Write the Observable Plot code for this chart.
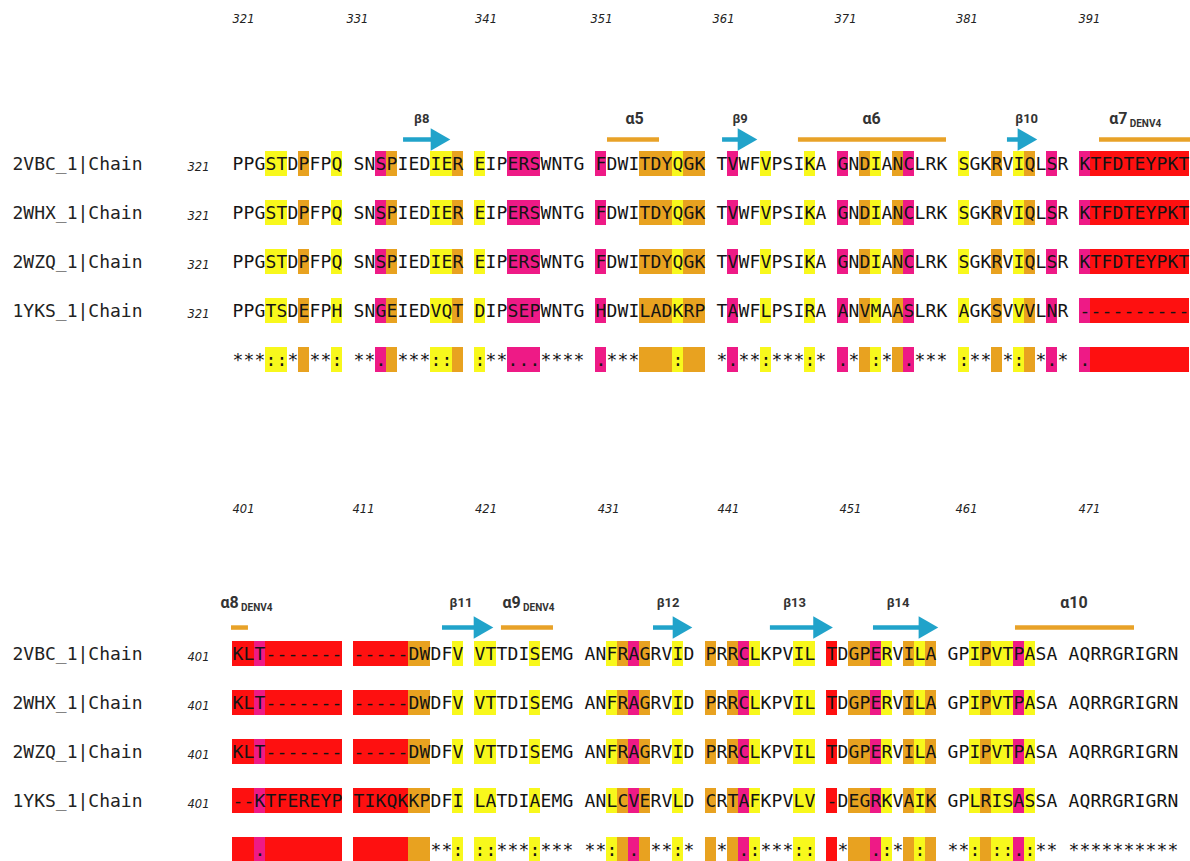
<!DOCTYPE html>
<html><head><meta charset="utf-8">
<script src="https://cdn.jsdelivr.net/npm/d3@7"></script>
<script src="https://cdn.jsdelivr.net/npm/@observablehq/plot@0.6"></script>
<style>body{margin:0;background:#fff}</style>
</head><body><div id="chart"></div>
<script>
// ---------- data ----------
const names = ["2VBC_1|Chain", "2WHX_1|Chain", "2WZQ_1|Chain", "1YKS_1|Chain"];
const panelStarts = [321, 401];

const top2VBC = ["PPGSTDPFPQ","SNSPIEDIER","EIPERSWNTG","FDWITDYQGK","TVWFVPSIKA","GNDIANCLRK","SGKRVIQLSR","KTFDTEYPKT"];
const top2WHX = ["PPGSTDPFPQ","SNSPIEDIER","EIPERSWNTG","FDWITDYQGK","TVWFVPSIKA","GNDIANCLRK","SGKRVIQLSR","KTFDTEYPKT"];
const top2WZQ = ["PPGSTDPFPQ","SNSPIEDIER","EIPERSWNTG","FDWITDYQGK","TVWFVPSIKA","GNDIANCLRK","SGKRVIQLSR","KTFDTEYPKT"];
const top1YKS = ["PPGTSDEFPH","SNGEIEDVQT","DIPSEPWNTG","HDWILADKRP","TAWFLPSIRA","ANVMAASLRK","AGKSVVVLNR","----------"];
const topCons = ["***::* **:","**. ***:: ",":**...****",".***   :  ","*.**:***:*",".* :* .***",":** *: *.*",".         "];
const topClass = ["   yy o  y","  po   yyo","y  ppp    ","p   oooyoo"," p  y   y ","p oy op   ","y  o yo p ","prrrrrrrrr"];

const bot2VBC = ["KLT-------","-----DWDFV","VTTDISEMG","ANFRAGRVID","PRRCLKPVIL","TDGPERVILA","GPIPVTPASA","AQRRGRIGRN"];
const bot2WHX = ["KLT-------","-----DWDFV","VTTDISEMG","ANFRAGRVID","PRRCLKPVIL","TDGPERVILA","GPIPVTPASA","AQRRGRIGRN"];
const bot2WZQ = ["KLT-------","-----DWDFV","VTTDISEMG","ANFRAGRVID","PRRCLKPVIL","TDGPERVILA","GPIPVTPASA","AQRRGRIGRN"];
const bot1YKS = ["--KTFEREYP","TIKQKKPDFI","LATDIAEMG","ANLCVERVLD","CRTAFKPVLV","-DEGRKVAIK","GPLRISASSA","AQRRGRIGRN"];
const botCons = ["  .       ","       **:","::***:***","**: . **:*"," * .:***::"," *  .:* : ","**: ::.:**","**********"];
const botClass = ["rrprrrrrrr","rrrrroo  y","yy   y   ","  yopo  y ","o opy   yy","r oopy oyo","  yoyypy  ","          "];

const topTicks = [321, 331, 341, 351, 361, 371, 381, 391];
const topTickCols = [0, 10.36, 22.05, 32.55, 43.64, 54.73, 65.77, 76.9];
const botTicks = [401, 411, 421, 431, 441, 451, 461, 471];
const botTickCols = [0, 10.91, 22.05, 33.2, 44.09, 55.18, 65.73, 76.9];

// secondary structure (column ranges within each panel)
const strands = [
  {panel: 0, name: "β8",  c1: 15.55, c2: 19.82, lc: 17.2},
  {panel: 0, name: "β9",  c1: 44.55, c2: 47.73, lc: 46.14},
  {panel: 0, name: "β10", c1: 70.45, c2: 73.18, lc: 72.2},
  {panel: 1, name: "β11", c1: 19.09, c2: 23.73, lc: 20.77},
  {panel: 1, name: "β12", c1: 38.27, c2: 41.82, lc: 39.6},
  {panel: 1, name: "β13", c1: 48.9,  c2: 54.6,  lc: 51.1},
  {panel: 1, name: "β14", c1: 58.27, c2: 64.18, lc: 60.5}
];
const helices = [
  {panel: 0, name: "α5",  sub: "",      c1: 34.09, c2: 38.82, lc: 36.55},
  {panel: 0, name: "α6",  sub: "",      c1: 51.45, c2: 64.91, lc: 58.1},
  {panel: 0, name: "α7",  sub: "DENV4", c1: 78.82, c2: 87.3,  lc: 79.7},
  {panel: 1, name: "α8",  sub: "DENV4", c1: -0.09, c2: 1.45,  lc: -1.09},
  {panel: 1, name: "α9",  sub: "DENV4", c1: 24.45, c2: 29.18, lc: 24.55},
  {panel: 1, name: "α10", sub: "",      c1: 71.18, c2: 82.0,  lc: 76.5}
];

// ---------- layout / styles ----------
const W = 1190, H = 861;
const X0 = 232, CW = 11, Y0 = 163.5, RH = 49;
const palette = {y: "#f8f81c", o: "#e8a220", p: "#ee1a86", r: "#fe1010"};
const BLUE = "#21a3ca", GOLD = "#e8a228", INK = "#141414";
const featY = [-0.5, -0.54], labY = [-0.93, -1.05], tickY = -2.96, panelGap = 10;

const panels = [
  {start: panelStarts[0], seqs: [top2VBC, top2WHX, top2WZQ, top1YKS], cons: topCons, cls: topClass, ticks: topTicks, tickCols: topTickCols},
  {start: panelStarts[1], seqs: [bot2VBC, bot2WHX, bot2WZQ, bot1YKS], cons: botCons, cls: botClass, ticks: botTicks, tickCols: botTickCols}
];

const cells = [], letters = [], nameRows = [], startNums = [], ticks = [];
panels.forEach((P, p) => {
  const base = p * panelGap;
  const cls = P.cls.join(" ");
  const rows = [...P.seqs.map(b => b.join(" ")), P.cons.join(" ")];
  rows.forEach((s, r) => {
    [...s].forEach((ch, c) => {
      const k = cls[c];
      if (k && k !== " ") cells.push({x1: c, x2: c + 1, y1: base + r - 0.255, y2: base + r + 0.255, fill: palette[k]});
      if (ch !== " ") letters.push({x: c + 0.5, y: base + r, ch});
    });
    if (r < 4) {
      nameRows.push({x: -20, y: base + r, t: names[r]});
      startNums.push({x: -4.09, y: base + r, t: String(P.start)});
    }
  });
  P.ticks.forEach((t, i) => ticks.push({x: P.tickCols[i], y: base + tickY, t: String(t)}));
});

const sy = d => d.panel * panelGap + featY[d.panel];
const ly = d => d.panel * panelGap + labY[d.panel];
const headBack = 13.3 / CW;

const plot = Plot.plot({
  width: W, height: H,
  marginTop: 0, marginRight: 0, marginBottom: 0, marginLeft: 0,
  x: {domain: [-X0 / CW, (W - X0) / CW], range: [0, W], axis: null},
  y: {domain: [-Y0 / RH, (H - Y0) / RH], range: [0, H], axis: null},
  color: {type: "identity"},
  marks: [
    Plot.rect(cells, {x1: "x1", x2: "x2", y1: "y1", y2: "y2", fill: "fill", shapeRendering: "crispEdges"}),
    Plot.text(letters, {x: "x", y: "y", text: "ch", fontFamily: "DejaVu Sans Mono", fontSize: 18, fill: INK}),
    Plot.text(nameRows, {x: "x", y: "y", text: "t", textAnchor: "start", fontFamily: "DejaVu Sans Mono", fontSize: 18, fill: "#222"}),
    Plot.text(startNums, {x: "x", y: "y", text: "t", textAnchor: "start", dy: 3, fontFamily: "DejaVu Sans", fontStyle: "italic", fontSize: 11.5, fill: "#222"}),
    Plot.text(ticks, {x: "x", y: "y", text: "t", textAnchor: "start", fontFamily: "DejaVu Sans", fontStyle: "italic", fontSize: 11.5, fill: "#222"}),
    // helices
    Plot.ruleY(helices, {x1: "c1", x2: "c2", y: sy, stroke: GOLD, strokeWidth: 4.5}),
    Plot.text(helices.filter(d => !d.sub), {x: "lc", y: ly, text: "name", fontFamily: "Roboto", fontWeight: 700, fontSize: 16, fill: "#333"}),
    Plot.text(helices.filter(d => d.sub), {x: "lc", y: ly, text: "name", textAnchor: "start", fontFamily: "Roboto", fontWeight: 700, fontSize: 16, fill: "#333"}),
    Plot.text(helices.filter(d => d.sub), {x: "lc", y: ly, text: "sub", textAnchor: "start", dx: 20.5, dy: 5, fontFamily: "Roboto", fontWeight: 700, fontSize: 10, fill: "#333"}),
    // strands
    Plot.ruleY(strands, {x1: "c1", x2: d => d.c2 - 1, y: sy, stroke: BLUE, strokeWidth: 4.5}),
    Plot.dot(strands, {x: d => d.c2 - headBack, y: sy, symbol: "triangle", r: 8.4, rotate: 90, fill: BLUE, stroke: "none"}),
    Plot.text(strands, {x: "lc", y: ly, text: "name", fontFamily: "Roboto", fontWeight: 700, fontSize: 13, fill: "#333"})
  ]
});
document.getElementById("chart").appendChild(plot);
</script>
</body></html>
